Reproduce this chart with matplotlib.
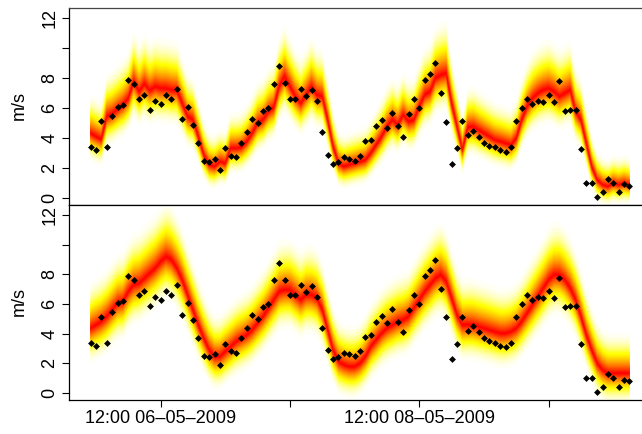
import numpy as np
import pandas as pd
import matplotlib
matplotlib.use("Agg")
import matplotlib.pyplot as plt
from matplotlib.colors import hsv_to_rgb
from statistics import NormalDist

plt.rcParams['font.family'] = ['Liberation Sans', 'DejaVu Sans']

# Hourly wind speed observations (m/s)
observed = [3.40, 3.20, 5.11, 3.40, 5.49, 6.07, 6.18, 7.89, 7.60, 6.58,
            6.89, 5.89, 6.49, 6.29, 6.89, 6.58, 7.29, 5.29, 6.09, 4.89,
            3.69, 2.49, 2.40, 2.60, 1.89, 3.31, 2.80, 2.71, 3.69, 4.38,
            5.29, 4.98, 5.78, 5.98, 7.60, 8.78, 7.64, 6.58, 6.58, 7.29,
            6.78, 7.18, 6.49, 4.40, 2.89, 2.29, 2.40, 2.71, 2.60, 2.49,
            2.80, 3.80, 3.89, 4.80, 5.20, 4.69, 5.69, 4.80, 4.09, 5.58,
            6.58, 5.98, 7.89, 8.29, 8.98, 7.00, 5.09, 2.29, 3.31, 5.11,
            4.20, 4.49, 4.09, 3.69, 3.49, 3.40, 3.20, 3.09, 3.40, 5.11,
            5.98, 6.58, 6.29, 6.49, 6.38, 6.89, 6.38, 7.78, 5.80, 5.89,
            5.89, 3.29, 1.00, 1.00, 0.07, 0.40, 1.29, 1.00, 0.40, 0.91,
            0.80]

# Median of the short-horizon forecast (upper panel)
median_short = [4.31, 4.09, 3.91, 5.42, 5.60, 5.91, 6.20, 6.64, 7.76, 7.09,
                7.60, 7.16, 7.42, 7.31, 7.31, 7.20, 7.16, 6.31, 5.42, 5.20,
                4.09, 2.87, 2.20, 2.09, 2.42, 2.30, 3.31, 3.31, 3.38, 3.76,
                4.31, 4.98, 5.20, 5.76, 6.04, 7.42, 8.10, 7.42, 6.76, 6.31,
                6.87, 7.42, 6.87, 6.76, 5.20, 3.42, 2.31, 2.09, 2.20, 2.31,
                2.42, 2.53, 2.98, 3.53, 4.09, 4.76, 5.20, 4.87, 5.53, 5.09,
                5.20, 6.09, 6.87, 7.09, 7.98, 8.20, 8.31, 6.31, 4.76, 3.20,
                4.70, 4.76, 4.53, 4.31, 4.09, 3.87, 3.76, 3.64, 3.53, 3.98,
                5.20, 6.09, 6.64, 6.98, 7.20, 7.31, 7.09, 6.76, 6.98, 7.20,
                5.76, 5.20, 3.64, 2.09, 1.20, 0.87, 0.76, 0.98, 0.87, 0.98,
                0.87]

# Median of the long-horizon forecast (lower panel)
median_long = [4.36, 4.58, 4.81, 5.15, 5.60, 6.05, 6.16, 6.83, 7.28, 7.40,
               7.73, 8.07, 8.41, 8.85, 9.19, 8.97, 8.41, 7.62, 6.61, 5.60,
               4.58, 3.69, 2.90, 2.45, 2.45, 2.79, 3.12, 3.46, 3.69, 3.91,
               4.25, 4.70, 5.15, 5.71, 6.27, 6.83, 6.95, 6.95, 6.61, 6.27,
               6.61, 6.61, 6.38, 5.60, 4.25, 2.90, 2.11, 1.89, 1.77, 1.77,
               2.00, 2.45, 3.12, 3.57, 4.02, 4.36, 4.58, 4.81, 4.92, 5.15,
               5.71, 6.27, 6.83, 7.28, 7.73, 7.96, 7.50, 6.38, 5.26, 4.58,
               4.60, 4.58, 4.47, 4.36, 4.25, 4.13, 4.02, 4.02, 4.13, 4.36,
               4.81, 5.37, 5.93, 6.49, 7.06, 7.62, 7.96, 7.96, 7.62, 7.06,
               6.27, 5.15, 3.91, 2.90, 2.00, 1.55, 1.33, 1.33, 1.33, 1.33,
               1.33]

# Forecast scale model: sigma = base + slope * median, skewed upwards
scale_short = {"base": 0.60, "slope": 0.08, "upper": 1.20, "lower": 0.85}
scale_long = {"base": 1.00, "slope": 0.05, "upper": 1.10, "lower": 0.85}

times = pd.date_range("2009-05-05 23:00", periods=len(observed), freq="h")
tick_times = pd.to_datetime(["2009-05-06 12:00", "2009-05-07 12:00",
                             "2009-05-08 12:00", "2009-05-09 12:00"])
tick_labels = ["12:00 06\u201305\u20132009", "",
               "12:00 08\u201305\u20132009", ""]
y_ticks = [0, 2, 4, 6, 8, 10, 12]
y_ticklabels = ["0", "2", "4", "6", "8", "", "12"]


def heat_colors(n):
    """Equivalent of R's heat.colors(n)."""
    j = n // 4
    i = n - j
    cols = [hsv_to_rgb((h, 1.0, 1.0)) for h in np.linspace(0, 1 / 6, i)]
    if j > 0:
        sats = np.linspace(1 - 1 / (2 * j), 1 / (2 * j), j)
        cols += [hsv_to_rgb((1 / 6, s, 1.0)) for s in sats]
    return cols


def draw_fan(ax, t, median, scale):
    m = np.asarray(median)
    sigma = scale["base"] + scale["slope"] * m
    n_band = 49
    cols = heat_colors(n_band)
    nd = NormalDist()
    for k in range(n_band, 0, -1):
        z = nd.inv_cdf(0.5 + k / 100)
        hi = m + z * sigma * scale["upper"]
        lo = m - z * sigma * scale["lower"]
        ax.fill_between(t, lo, hi, facecolor=cols[k - 1], edgecolor="none",
                        linewidth=0, zorder=1)


W, H = 642, 434
fig = plt.figure(figsize=(W / 100, H / 100), dpi=100)
left_px, right_px = 69, 651
ax_top = fig.add_axes([left_px / W, 1 - 205 / H, (right_px - left_px) / W, 197 / H])
ax_bot = fig.add_axes([left_px / W, 1 - 400 / H, (right_px - left_px) / W, 195 / H])

x_lo = times[0] - pd.Timedelta(hours=4)
x_hi = times[0] + pd.Timedelta(hours=104)

for ax, med, sc in ((ax_top, median_short, scale_short),
                    (ax_bot, median_long, scale_long)):
    draw_fan(ax, times, med, sc)
    ax.plot(times, observed, linestyle="none", marker="D", markersize=3.5,
            color="black", markeredgewidth=0, zorder=3)
    ax.set_xlim(x_lo, x_hi)
    ax.set_ylim(-0.47, 12.67)
    ax.set_yticks(y_ticks)
    ax.set_yticklabels(y_ticklabels)
    ax.tick_params(axis="y", direction="out", length=5, width=0.8,
                   labelsize=13, pad=2.5, labelrotation=90)
    for lab in ax.get_yticklabels():
        lab.set_va("center")
    ax.spines["right"].set_visible(False)
    for s in ("left", "top", "bottom"):
        ax.spines[s].set_linewidth(0.9)
        ax.spines[s].set_color("black")

ax_top.tick_params(axis="x", bottom=False, labelbottom=False)
ax_top.spines["top"].set_color("#444444")
ax_bot.set_xticks(tick_times)
ax_bot.set_xticklabels(tick_labels)
ax_bot.tick_params(axis="x", direction="out", length=5, width=0.8,
                   labelsize=13, pad=2)

fig.text(19 / W, 1 - 106 / H, "m/s", rotation=90, ha="center", va="center",
         fontsize=13)
fig.text(19 / W, 1 - 302 / H, "m/s", rotation=90, ha="center", va="center",
         fontsize=13)

fig.savefig("out.png", dpi=100)
